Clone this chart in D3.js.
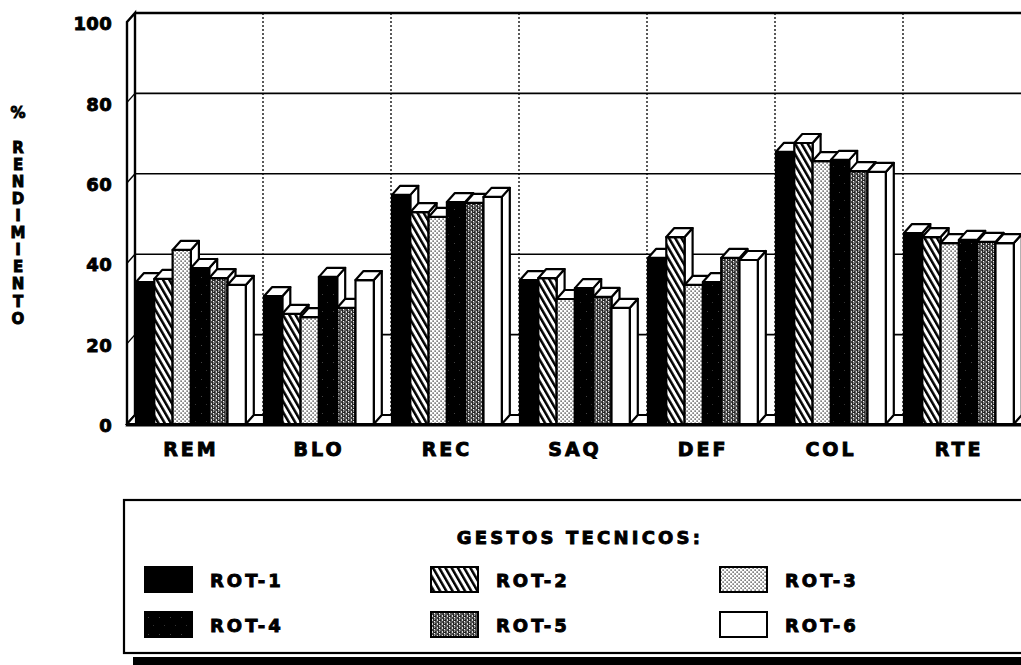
<!DOCTYPE html>
<html><head><meta charset="utf-8">
<script src="https://cdn.jsdelivr.net/npm/d3@7"></script>
<style>
html,body{margin:0;padding:0;background:#fff;}
svg{display:block;}
text{font-family:"DejaVu Sans",sans-serif;font-weight:bold;fill:#000;stroke:#000;stroke-width:0.9px;}
</style></head>
<body>
<svg id="chart" width="1021" height="665"></svg>
<script>
const categories = ["REM","BLO","REC","SAQ","DEF","COL","RTE"];
const series = ["ROT-1","ROT-2","ROT-3","ROT-4","ROT-5","ROT-6"];
const rot1 = [35.3, 31.8, 57.0, 35.8, 41.3, 67.7, 47.5];
const rot2 = [36.1, 27.4, 52.7, 36.3, 46.5, 69.9, 46.5];
const rot3 = [43.3, 26.6, 51.5, 31.1, 34.6, 65.4, 45.0];
const rot4 = [38.8, 36.6, 55.2, 33.8, 35.3, 65.7, 45.8];
const rot5 = [36.3, 28.9, 55.0, 31.6, 41.3, 62.9, 45.3];
const rot6 = [34.6, 35.8, 56.5, 28.9, 40.8, 62.7, 45.0];
const yTicks = [0, 20, 40, 60, 80, 100];
const yTitle = "% RENDIMIENTO";
const legendTitle = "GESTOS TECNICOS:";

const values = [rot1, rot2, rot3, rot4, rot5, rot6];
const svg = d3.select("#chart");
const defs = svg.append("defs");

// patterns
const fills = ["#000", "url(#p2)", "url(#p3)", "url(#p4)", "url(#p5)", "#fff"];
let p = defs.append("pattern").attr("id","p2").attr("patternUnits","userSpaceOnUse")
  .attr("width",5.4).attr("height",10).attr("patternTransform","rotate(-30)");
p.append("rect").attr("width",5.4).attr("height",10).attr("fill","#fff");
p.append("rect").attr("x",0).attr("width",2.5).attr("height",10).attr("fill","#000");

p = defs.append("pattern").attr("id","p3").attr("patternUnits","userSpaceOnUse")
  .attr("width",4).attr("height",4);
p.append("rect").attr("width",4).attr("height",4).attr("fill","#fff");
p.append("rect").attr("x",0.5).attr("y",0.5).attr("width",1.2).attr("height",1.2).attr("fill","#000");
p.append("rect").attr("x",2.5).attr("y",2.5).attr("width",1.2).attr("height",1.2).attr("fill","#000");

p = defs.append("pattern").attr("id","p4").attr("patternUnits","userSpaceOnUse")
  .attr("width",11).attr("height",17);
p.append("rect").attr("width",11).attr("height",17).attr("fill","#000");
p.append("rect").attr("x",3).attr("y",5).attr("width",1).attr("height",1).attr("fill","#444");
p.append("rect").attr("x",8).attr("y",13).attr("width",1).attr("height",1).attr("fill","#333");

p = defs.append("pattern").attr("id","p5").attr("patternUnits","userSpaceOnUse")
  .attr("width",5).attr("height",4);
p.append("rect").attr("width",5).attr("height",4).attr("fill","#222");
p.append("path").attr("d","M0.5,1 L2,0.5 M2.8,1.2 L4.5,2 M0.5,3 L2,3.5 M3,3.2 L4.2,2.9")
  .attr("stroke","#fff").attr("stroke-width",1).attr("fill","none");

// geometry
const DX = 8, DY = -9;
const y = d3.scaleLinear().domain([0, 100]).range([424, 22]);
const x = d3.scaleBand().domain(categories).range([127, 127 + 7 * 128]);
const xs = d3.scaleBand().domain(series).range([9, 9 + 6 * 18.3]);
const barW = xs.bandwidth();
const xRight = 1200;

const g = svg.append("g");
// back wall
g.append("rect").attr("x",127+DX).attr("y",y(100)+DY).attr("width",xRight).attr("height",y(0)-y(100))
  .attr("fill","#fff");
// gridlines on back wall
g.selectAll(".grid").data(yTicks.filter(v => v > 0 && v < 100)).join("line")
  .attr("x1",127+DX).attr("x2",xRight).attr("y1",d=>y(d)+DY).attr("y2",d=>y(d)+DY)
  .attr("stroke","#000").attr("stroke-width",1.6);
g.append("line").attr("x1",127+DX).attr("x2",xRight).attr("y1",y(100)+DY).attr("y2",y(100)+DY)
  .attr("stroke","#000").attr("stroke-width",2.6);
// vertical dotted separators
g.selectAll(".sep").data(categories.slice(1)).join("line")
  .attr("x1",d=>x(d)+DX).attr("x2",d=>x(d)+DX)
  .attr("y1",y(100)+DY).attr("y2",y(0)+DY)
  .attr("stroke","#000").attr("stroke-width",1.3).attr("stroke-dasharray","2,2");
// left wall
g.append("path").attr("d",`M127,${y(0)} L127,${y(100)} L${127+DX},${y(100)+DY} L${127+DX},${y(0)+DY} Z`)
  .attr("fill","#fff").attr("stroke","#000").attr("stroke-width",2.4);
g.selectAll(".wgrid").data(yTicks.filter(v => v > 0 && v < 100)).join("line")
  .attr("x1",127).attr("x2",127+DX).attr("y1",d=>y(d)).attr("y2",d=>y(d)+DY)
  .attr("stroke","#000").attr("stroke-width",1.4);
// floor
g.append("path").attr("d",`M127,${y(0)} L${xRight},${y(0)} L${xRight},${y(0)+DY} L${127+DX},${y(0)+DY} Z`)
  .attr("fill","#fff").attr("stroke","#000").attr("stroke-width",2);

// bars
const bars = [];
categories.forEach((c, ci) => series.forEach((s, si) => bars.push({c, s, si, v: values[si][ci]})));
const bg = g.append("g").attr("stroke","#000").attr("stroke-width",2.2).attr("stroke-linejoin","round");
bars.forEach(b => {
  const x0 = x(b.c) + xs(b.s), x1 = x0 + barW, yt = y(b.v), yb = y(0);
  bg.append("path").attr("d",`M${x1},${yt} L${x1+DX},${yt+DY} L${x1+DX},${yb+DY} L${x1},${yb} Z`).attr("fill","#fff");
  bg.append("rect").attr("x",x0).attr("y",yt).attr("width",barW).attr("height",yb-yt).attr("fill",fills[b.si]);
  bg.append("path").attr("d",`M${x0},${yt} L${x1},${yt} L${x1+DX},${yt+DY} L${x0+DX},${yt+DY} Z`).attr("fill","#fff");
});
// front floor edge
g.append("line").attr("x1",127).attr("x2",xRight).attr("y1",y(0)+1).attr("y2",y(0)+1)
  .attr("stroke","#000").attr("stroke-width",3.2);

// y axis labels
const ya = svg.append("g").attr("transform","translate(127,2)")
  .call(d3.axisLeft(y).tickValues(yTicks).tickSize(0).tickPadding(15));
ya.select(".domain").remove();
ya.selectAll("text").attr("font-size",18).attr("font-family","DejaVu Sans").attr("font-weight","bold")
  .attr("letter-spacing",0.3);

// x axis labels
const xa = svg.append("g").attr("transform",`translate(0,${y(0)})`)
  .call(d3.axisBottom(x).tickSize(0).tickPadding(19));
xa.select(".domain").remove();
xa.selectAll("text").attr("font-size",19).attr("font-family","DejaVu Sans").attr("font-weight","bold")
  .attr("letter-spacing",3).attr("dx",0);

// y title stacked
svg.append("g").selectAll("text").data(yTitle.split("")).join("text")
  .attr("x",18).attr("y",(d,i)=>113 + i*17.1).attr("dy","0.36em")
  .attr("text-anchor","middle").attr("font-size",15).style("stroke-width","0.9px").text(d=>d);

// legend
const lg = svg.append("g");
lg.append("rect").attr("x",133).attr("y",657).attr("width",1000).attr("height",12).attr("fill","#000");
lg.append("rect").attr("x",124).attr("y",500).attr("width",1000).attr("height",153)
  .attr("fill","#fff").attr("stroke","#000").attr("stroke-width",2.2);
lg.append("text").attr("x",580).attr("y",544).attr("text-anchor","middle")
  .attr("font-size",18).attr("letter-spacing",3.2).text(legendTitle);
const colX = [145, 431, 720], rowY = [567, 612];
const items = lg.selectAll(".li").data(series).join("g")
  .attr("transform",(d,i)=>`translate(${colX[i%3]},${rowY[Math.floor(i/3)]})`);
items.append("rect").attr("width",47).attr("height",25).attr("fill",(d,i)=>fills[i])
  .attr("stroke","#000").attr("stroke-width",2);
items.append("text").attr("x",65).attr("y",20).attr("font-size",18).attr("letter-spacing",3).text(d=>d);
</script>
</body></html>
